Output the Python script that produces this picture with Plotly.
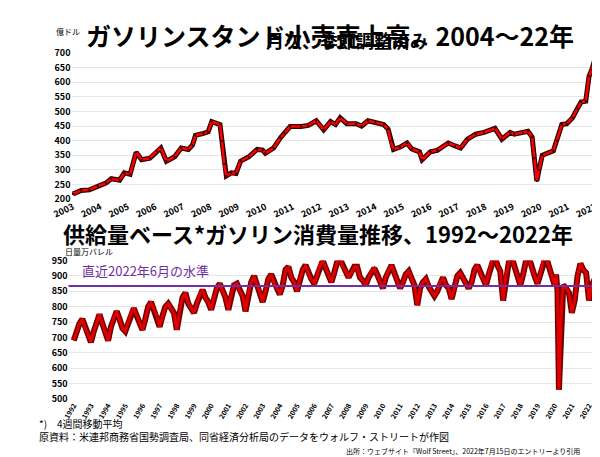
import plotly.graph_objects as go

# top chart: gas station retail sales, 100M USD (approx. reading)
sales_x = [2003.0, 2003.3, 2003.6, 2003.9, 2004.2, 2004.4, 2004.0 + 0.7, 2004.87,
           2005.08, 2005.3, 2005.5, 2005.8, 2006.05, 2006.2, 2006.4, 2006.7, 2006.94,
           2007.2, 2007.35, 2007.46, 2007.75, 2007.92, 2008.05, 2008.35, 2008.42,
           2008.5, 2008.58, 2008.76, 2008.93, 2009.1, 2009.4, 2009.7, 2009.9,
           2010.0, 2010.3, 2010.55, 2010.7, 2010.9, 2011.3, 2011.56, 2011.85,
           2012.12, 2012.37, 2012.55, 2012.72, 2012.96, 2013.3, 2013.5, 2013.73,
           2014.0, 2014.3, 2014.46, 2014.55, 2014.66, 2014.9, 2015.15, 2015.32,
           2015.6, 2015.7, 2016.0, 2016.25, 2016.65, 2016.9, 2017.1, 2017.35,
           2017.65, 2017.95, 2018.35, 2018.6, 2018.9, 2019.05, 2019.37, 2019.55,
           2019.7, 2019.77, 2019.87, 2019.95, 2020.07, 2020.47, 2020.6, 2020.78,
           2020.96, 2021.17, 2021.35, 2021.48, 2021.65, 2021.77, 2021.87, 2022.05]
sales_y = [218, 230, 232, 245, 255, 270, 265, 290,
           285, 360, 335, 340, 365, 375, 330, 345, 375,
           370, 385, 418, 425, 430, 465, 455, 400,
           320, 280, 290, 288, 330, 345, 370, 368,
           357, 375, 410, 425, 448, 448, 452, 468,
           437, 465, 455, 478, 458, 458, 450, 468,
           462, 455, 440, 400, 370, 378, 392, 372,
           362, 335, 362, 367, 392, 382, 375, 405,
           422, 428, 442, 405, 428, 422, 428, 432,
           412, 340, 262, 300, 350, 365, 400, 455,
           458, 478, 510, 532, 535, 620, 642, 700]
sales_years = list(range(2003, 2023))

# bottom chart: gasoline consumption, 10k barrels/day (approx. reading)
cons_months = [1, 3, 5, 7, 9, 11]
cons_years = list(range(1992, 2020))
cons_vals = [
    [690, 720, 745, 760, 730, 710], [685, 720, 750, 775, 745, 720],
    [690, 735, 765, 785, 760, 730], [720, 750, 780, 795, 770, 750],
    [725, 760, 800, 815, 790, 770], [735, 770, 800, 810, 795, 780],
    [725, 790, 830, 845, 810, 795], [780, 810, 840, 855, 830, 815],
    [790, 830, 860, 875, 850, 830], [790, 840, 870, 875, 850, 835],
    [785, 845, 880, 900, 870, 850], [815, 850, 890, 905, 875, 860],
    [840, 870, 920, 930, 895, 880], [850, 890, 920, 935, 905, 890],
    [875, 900, 935, 950, 925, 905], [880, 910, 945, 955, 930, 915],
    [895, 910, 930, 930, 895, 885], [870, 895, 915, 925, 905, 885],
    [860, 895, 920, 935, 910, 890], [860, 880, 905, 915, 890, 870],
    [805, 860, 880, 890, 865, 850], [835, 850, 880, 895, 870, 860],
    [825, 860, 900, 910, 890, 875], [860, 880, 920, 935, 910, 890],
    [870, 905, 950, 965, 935, 915], [820, 900, 945, 960, 930, 905],
    [870, 905, 950, 960, 925, 900], [875, 910, 950, 965, 930, 900],
]
late_months = ["2020-01", "2020-02", "2020-03", "2020-04", "2020-05", "2020-06", "2020-07",
               "2020-09", "2020-11", "2021-01", "2021-03", "2021-05", "2021-07", "2021-09",
               "2021-11", "2022-01", "2022-03", "2022-05", "2022-06"]
late_vals = [870, 905, 850, 530, 700, 820, 870, 860, 845, 780, 820, 900, 940, 920, 910,
             820, 870, 890, 880]
june_2022_level = 867
cons_years_ticks = list(range(1992, 2023))

cons_x = []
cons_y = []
for yr, row in zip(cons_years, cons_vals):
    for m, v in zip(cons_months, row):
        cons_x.append(yr + (m - 1) / 12)
        cons_y.append(v)
for d, v in zip(late_months, late_vals):
    yr, m = d.split("-")
    cons_x.append(int(yr) + (int(m) - 1) / 12)
    cons_y.append(v)

font = "Noto Sans CJK JP"
fig = go.Figure()
fig.add_trace(go.Scatter(x=sales_x, y=sales_y, mode="lines",
                         line=dict(color="#300000", width=5), xaxis="x", yaxis="y"))
fig.add_trace(go.Scatter(x=sales_x, y=sales_y, mode="lines+markers",
                         line=dict(color="#ff0000", width=2.5),
                         marker=dict(color="black", size=2), xaxis="x", yaxis="y"))
fig.add_trace(go.Scatter(x=cons_x, y=cons_y, mode="lines",
                         line=dict(color="#700000", width=6), xaxis="x2", yaxis="y2"))
fig.add_trace(go.Scatter(x=cons_x, y=cons_y, mode="lines",
                         line=dict(color="#e00000", width=3), xaxis="x2", yaxis="y2"))
fig.add_trace(go.Scatter(x=[1991.5, 2022.6], y=[june_2022_level] * 2, mode="lines",
                         line=dict(color="#7030a0", width=2), xaxis="x2", yaxis="y2"))

tickf = dict(family=font, size=9, color="black", weight="bold")
fig.update_layout(
    width=600, height=457, margin=dict(l=0, r=0, t=0, b=0),
    paper_bgcolor="white", plot_bgcolor="white", showlegend=False,
    font=dict(family=font),
    xaxis=dict(domain=[0.075, 0.983], range=[2002.95, 2022.1], tickvals=sales_years,
               tickangle=-25, tickfont=tickf, showgrid=False, zeroline=False,
               anchor="y", ticks=""),
    yaxis=dict(domain=[0.585, 0.915], range=[200, 700], dtick=50, tickfont=tickf,
               gridcolor="#e6e6e6", zeroline=False, anchor="x"),
    xaxis2=dict(domain=[0.07, 0.985], range=[1991.7, 2022.6], tickvals=cons_years_ticks,
                tickangle=-60, tickfont=dict(family=font, size=7, color="black", weight="bold"),
                showgrid=False, zeroline=False, anchor="y2"),
    yaxis2=dict(domain=[0.135, 0.447], range=[500, 950], dtick=50, tickfont=tickf,
                gridcolor="#e6e6e6", zeroline=False, anchor="x2"),
    annotations=[
        dict(text="<b>ガソリンスタンド小売売上高、2004～22年</b>", x=0.52, y=1.0,
             xref="paper", yref="paper", showarrow=False, yanchor="top",
             font=dict(size=25, color="black")),
        dict(text="<b>月次、季節調整済み</b>", x=0.55, y=0.91, xref="paper", yref="paper",
             showarrow=False, yanchor="bottom", font=dict(size=18, color="black")),
        dict(text="億ドル", x=0.045, y=0.945, xref="paper", yref="paper", showarrow=False,
             yanchor="bottom", font=dict(size=8, color="black")),
        dict(text="<b>供給量ベース*ガソリン消費量推移、1992～2022年</b>", x=0.5, y=0.51,
             xref="paper", yref="paper", showarrow=False, font=dict(size=22, color="black")),
        dict(text="日量万バレル", x=0.06, y=0.468, xref="paper", yref="paper",
             showarrow=False, xanchor="left", font=dict(size=8, color="black")),
        dict(text="直近2022年6月の水準", x=0.09, y=0.425, xref="paper", yref="paper",
             showarrow=False, xanchor="left", font=dict(size=13, color="#7030a0")),
        dict(text="*)　4週間移動平均", x=0.015, y=0.058, xref="paper", yref="paper",
             showarrow=False, xanchor="left", font=dict(size=10, color="black")),
        dict(text="原資料：米連邦商務省国勢調査局、同省経済分析局のデータをウォルフ・ストリートが作図",
             x=0.015, y=0.03, xref="paper", yref="paper", showarrow=False,
             xanchor="left", font=dict(size=10, color="black")),
        dict(text="出所：ウェブサイト『Wolf Street』、2022年7月15日のエントリーより引用",
             x=0.955, y=0.003, xref="paper", yref="paper", showarrow=False,
             xanchor="right", font=dict(size=7, color="black")),
    ],
)
fig.write_html("out.html")
